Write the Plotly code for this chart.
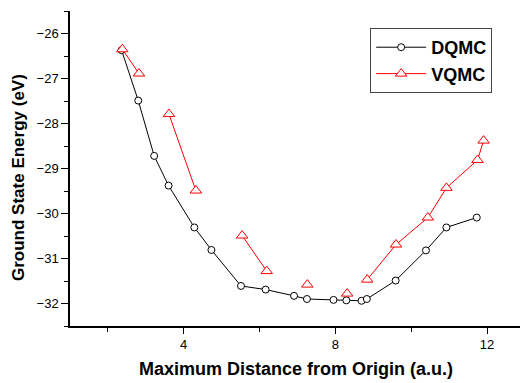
import plotly.graph_objects as go

# Data
dqmc_x = [2.36, 2.80, 3.22, 3.60, 4.28, 4.73, 5.51, 6.16, 6.91, 7.25, 7.95, 8.29, 8.69, 8.83, 9.59, 10.39, 10.93, 11.73]
dqmc_y = [-26.37, -27.49, -28.72, -29.38, -30.31, -30.81, -31.61, -31.69, -31.83, -31.90, -31.92, -31.93, -31.94, -31.90, -31.49, -30.82, -30.31, -30.09]

vqmc_x = [2.38, 2.82, None, 3.61, 4.32, None, 5.54, 6.19, None, 7.26, None, 8.31, None, 8.84, 9.60, 10.44, 10.93, 11.75, 11.91]
vqmc_y = [-26.35, -26.89, None, -27.79, -29.49, None, -30.49, -31.28, None, -31.58, None, -31.78, None, -31.47, -30.69, -30.09, -29.43, -28.81, -28.38]

x_range = [1, 12.87]
y_range = [-32.5, -25.5]
x_title = "Maximum Distance from Origin (a.u.)"
y_title = "Ground State Energy (eV)"

FONT = "Liberation Sans, Arial, sans-serif"

fig = go.Figure()
fig.add_trace(go.Scatter(
    x=dqmc_x, y=dqmc_y, name="DQMC", mode="lines+markers",
    line=dict(color="black", width=1),
    marker=dict(symbol="circle", size=7, color="white", line=dict(color="black", width=1)),
))
fig.add_trace(go.Scatter(
    x=vqmc_x, y=vqmc_y, name="VQMC", mode="lines+markers", connectgaps=False,
    line=dict(color="red", width=1),
    marker=dict(symbol="triangle-up", size=10, color="white", line=dict(color="red", width=1)),
))

W, H = 520, 383
L, R, T, B = 70, 0, 11, 57

fig.update_layout(
    width=W, height=H,
    margin=dict(l=L, r=R, t=T, b=B, autoexpand=False),
    paper_bgcolor="white", plot_bgcolor="white",
    font=dict(family=FONT, color="black"),
    showlegend=True,
    legend=dict(
        x=0.667, y=0.946, xanchor="left", yanchor="top",
        bordercolor="#444", borderwidth=1, bgcolor="white",
        font=dict(family=FONT, size=18, color="black", weight="bold"),
        itemwidth=50,
    ),
    xaxis=dict(
        range=x_range, tick0=0, dtick=4, ticks="outside", ticklen=6, tickwidth=1.2,
        tickcolor="black", showline=True, linecolor="black", linewidth=1.5,
        showgrid=False, zeroline=False, automargin=False,
        tickfont=dict(family=FONT, size=13),
        minor=dict(dtick=2, ticks="outside", ticklen=4, tickcolor="black", showgrid=False),
    ),
    yaxis=dict(
        range=y_range, tick0=0, dtick=1, ticks="outside", ticklen=7, tickwidth=1.2,
        tickcolor="black", showline=True, linecolor="black", linewidth=1.5,
        showgrid=False, zeroline=False, automargin=False,
        tickfont=dict(family=FONT, size=13),
        minor=dict(dtick=0.5, ticks="outside", ticklen=4, tickcolor="black", showgrid=False),
    ),
    xaxis2=dict(
        range=x_range, overlaying="x", side="top", anchor="y", tick0=0, dtick=2,
        ticks="inside", ticklen=4, tickcolor="black", showticklabels=False, automargin=False,
        showline=True, linecolor="black", linewidth=1.5, showgrid=False, zeroline=False,
    ),
    yaxis2=dict(
        range=y_range, overlaying="y", side="right", anchor="x", tick0=0, dtick=1,
        ticks="inside", ticklen=5, tickcolor="black", showticklabels=False, automargin=False,
        showline=True, linecolor="black", linewidth=1.5, showgrid=False, zeroline=False,
    ),
    annotations=[
        dict(text=f"<b>{x_title}</b>", xref="paper", yref="paper",
             x=(296 - L) / (W - L - R), y=-(369 - (H - B)) / (H - T - B),
             xanchor="center", yanchor="middle", showarrow=False,
             font=dict(family=FONT, size=18, color="black")),
        dict(text=f"<b>{y_title}</b>", xref="paper", yref="paper",
             x=-(L - 18) / (W - L - R), y=((H - B) - 178) / (H - T - B),
             xanchor="center", yanchor="middle", showarrow=False, textangle=-90,
             font=dict(family=FONT, size=17, color="black")),
    ],
)

fig.write_html(
    "out.html",
    config={"displayModeBar": False},
    post_script="document.body.style.margin='0';document.body.style.overflow='hidden';",
)
